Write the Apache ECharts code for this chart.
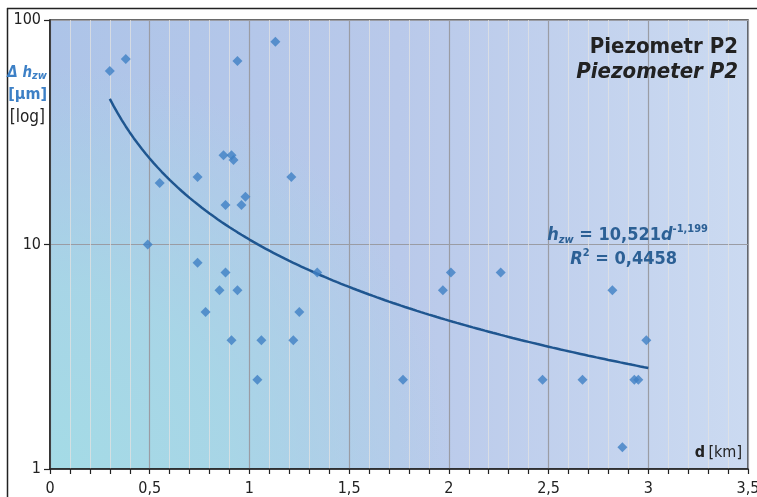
<!DOCTYPE html>
<html>
<head>
<meta charset="utf-8">
<style>
html,body{margin:0;padding:0;background:#fff;}
#chart{width:757px;height:497px;}
</style>
<script src="https://cdn.jsdelivr.net/npm/echarts@6/dist/echarts.min.js"></script>
</head>
<body>
<div id="chart"></div>
<script>
// Data (d in km, delta h_zw in µm)
const distances = [0.30,0.38,1.13,0.94,0.87,0.91,0.92,0.74,0.55,1.21,0.98,0.88,0.96,0.49,0.74,0.88,0.85,0.94,0.78,1.25,0.91,1.06,1.22,1.34,1.04,1.77,1.97,2.01,2.26,2.47,2.67,2.82,2.87,2.93,2.95,2.99];
const deltas    = [59.3,67,80,65.7,25,25,23.8,20,18.8,20,16.3,15,15,10,8.3,7.5,6.25,6.25,5,5,3.75,3.75,3.75,7.5,2.5,2.5,6.25,7.5,7.5,2.5,2.5,6.25,1.25,2.5,2.5,3.75];
const xTickLabels = ['0','0,5','1','1,5','2','2,5','3','3,5'];
const yTickLabels = ['1','10','100'];
// Power trend shown on the chart: h = A * d^B, drawn over the data range
const TREND_A = 10.521;
const TREND_B = -1.199;
const TREND_X_START = 0.30;
const TREND_X_END = 3.00;

const scatterData = distances.map((d, i) => [d, deltas[i]]);
const trendData = [];
for (let k = 0; k <= 135; k++) {
  const x = TREND_X_START + (TREND_X_END - TREND_X_START) * k / 135;
  trendData.push([x, TREND_A * Math.pow(x, TREND_B)]);
}

const FONT = "'Liberation Sans Narrow','DejaVu Sans Condensed','Roboto Condensed',sans-serif";
const G = {left: 50, top: 20, width: 698, height: 449};
const TZ = 100;

const chart = echarts.init(document.getElementById('chart'), null, {renderer: 'canvas'});
chart.setOption({
  animation: false,
  backgroundColor: '#ffffff',
  grid: {left: G.left, top: G.top, width: G.width, height: G.height, show: true,
         outerBoundsMode: 'none', containLabel: false,
         borderColor: '#3a3a3a', borderWidth: 1.5, backgroundColor: 'transparent'},
  xAxis: {
    type: 'value', min: 0, max: 3.5, interval: 0.5,
    axisLine: {show: true, onZero: false, lineStyle: {color: '#222', width: 1.5}},
    axisTick: {show: true, length: 5, lineStyle: {color: '#222', width: 1.2}},
    minorTick: {show: true, splitNumber: 5, length: 5, lineStyle: {color: '#222', width: 1.2}},
    splitLine: {show: true, lineStyle: {color: '#9a9ca4', width: 1.2}},
    minorSplitLine: {show: true, lineStyle: {color: 'rgba(225,225,225,0.75)', width: 1}},
    axisLabel: {color: '#222', fontSize: 16, fontFamily: FONT, margin: 12,
                formatter: v => xTickLabels[Math.round(v * 2)]}
  },
  yAxis: {
    type: 'log', logBase: 10, min: 1, max: 100,
    axisLine: {show: true, lineStyle: {color: '#222', width: 1.5}},
    axisTick: {show: true, length: 6, lineStyle: {color: '#222', width: 1.2}},
    splitLine: {show: true, lineStyle: {color: '#9a9ca4', width: 1.2}},
    axisLabel: {color: '#222', fontSize: 16, fontFamily: FONT, margin: 9,
                formatter: v => yTickLabels[Math.round(Math.log10(v))]}
  },
  graphic: [
    {type: 'rect', z: -10, silent: true, shape: {x: G.left, y: G.top, width: G.width, height: G.height},
     style: {fill: new echarts.graphic.LinearGradient(0, 0, 1, 0, [
       {offset: 0, color: '#adc4e8'}, {offset: 0.5, color: '#b9c9ea'}, {offset: 1, color: '#cbdaf1'}])}},
    {type: 'rect', z: -9, silent: true, shape: {x: G.left, y: G.top, width: G.width, height: G.height},
     style: {fill: new echarts.graphic.RadialGradient(0.0, 1.0, 0.9, [
       {offset: 0, color: 'rgba(164,219,230,1)'}, {offset: 0.45, color: 'rgba(166,216,230,0.85)'},
       {offset: 1, color: 'rgba(166,214,230,0)'}])}},
    {type: 'line', silent: true, shape: {x1: 7, y1: 8.5, x2: 757, y2: 8.5}, style: {stroke: '#222', lineWidth: 1.5}},
    {type: 'line', silent: true, shape: {x1: 7.5, y1: 8, x2: 7.5, y2: 497}, style: {stroke: '#222', lineWidth: 1.5}},
    {type: 'text', z: TZ, x: 47, y: 73, style: {text: '{a|Δ h}{s|zw}', align: 'right', verticalAlign: 'middle',
      rich: {a: {fontSize: 15, fontStyle: 'italic', fontWeight: 'bold', fill: '#3d80c6', fontFamily: FONT, lineHeight: 18},
             s: {fontSize: 11, fontStyle: 'italic', fontWeight: 'bold', fill: '#3d80c6', fontFamily: FONT, verticalAlign: 'bottom', lineHeight: 18}}}},
    {type: 'text', z: TZ, x: 47, y: 95, style: {text: '[µm]', align: 'right', verticalAlign: 'middle', fontSize: 16,
      fontWeight: 'bold', fill: '#3d80c6', fontFamily: FONT}},
    {type: 'text', z: TZ, x: 45, y: 118, style: {text: '[log]', align: 'right', verticalAlign: 'middle', fontSize: 17,
      fill: '#222', fontFamily: FONT}},
    {type: 'text', z: TZ, x: 738, y: 47, style: {text: 'Piezometr P2', align: 'right', verticalAlign: 'middle', fontSize: 22,
      fontWeight: 'bold', fill: '#222', fontFamily: FONT}},
    {type: 'text', z: TZ, x: 738, y: 72, style: {text: 'Piezometer P2', align: 'right', verticalAlign: 'middle', fontSize: 22,
      fontWeight: 'bold', fontStyle: 'italic', fill: '#222', fontFamily: FONT}},
    {type: 'text', z: TZ, x: 708, y: 235, style: {text: '{a|h}{s|zw}{b| = 10,521}{a|d}{p|-1,199}', align: 'right', verticalAlign: 'middle',
      rich: {a: {fontSize: 18, fontStyle: 'italic', fontWeight: 'bold', fill: '#2c6095', fontFamily: FONT, lineHeight: 22},
             b: {fontSize: 18, fontWeight: 'bold', fill: '#2c6095', fontFamily: FONT, lineHeight: 22},
             s: {fontSize: 11, fontStyle: 'italic', fontWeight: 'bold', fill: '#2c6095', fontFamily: FONT, verticalAlign: 'bottom', lineHeight: 22},
             p: {fontSize: 11, fontWeight: 'bold', fill: '#2c6095', fontFamily: FONT, verticalAlign: 'top', lineHeight: 22}}}},
    {type: 'text', z: TZ, x: 677, y: 259, style: {text: '{a|R}{p|2}{b| = 0,4458}', align: 'right', verticalAlign: 'middle',
      rich: {a: {fontSize: 18, fontStyle: 'italic', fontWeight: 'bold', fill: '#2c6095', fontFamily: FONT, lineHeight: 22},
             b: {fontSize: 18, fontWeight: 'bold', fill: '#2c6095', fontFamily: FONT, lineHeight: 22},
             p: {fontSize: 11, fontWeight: 'bold', fill: '#2c6095', fontFamily: FONT, verticalAlign: 'top', lineHeight: 22}}}},
    {type: 'text', z: TZ, x: 742, y: 453, style: {text: '{a|d} {b|[km]}', align: 'right', verticalAlign: 'middle',
      rich: {a: {fontSize: 16, fontWeight: 'bold', fill: '#222', fontFamily: FONT},
             b: {fontSize: 16, fill: '#222', fontFamily: FONT}}}}
  ],
  series: [
    {type: 'line', data: trendData, showSymbol: false, smooth: false, z: 2,
     lineStyle: {color: '#1f5690', width: 2.5}},
    {type: 'scatter', data: scatterData, symbol: 'diamond', symbolSize: 10, z: 3,
     itemStyle: {color: '#3f80c4'}}
  ]
});
</script>
</body>
</html>
